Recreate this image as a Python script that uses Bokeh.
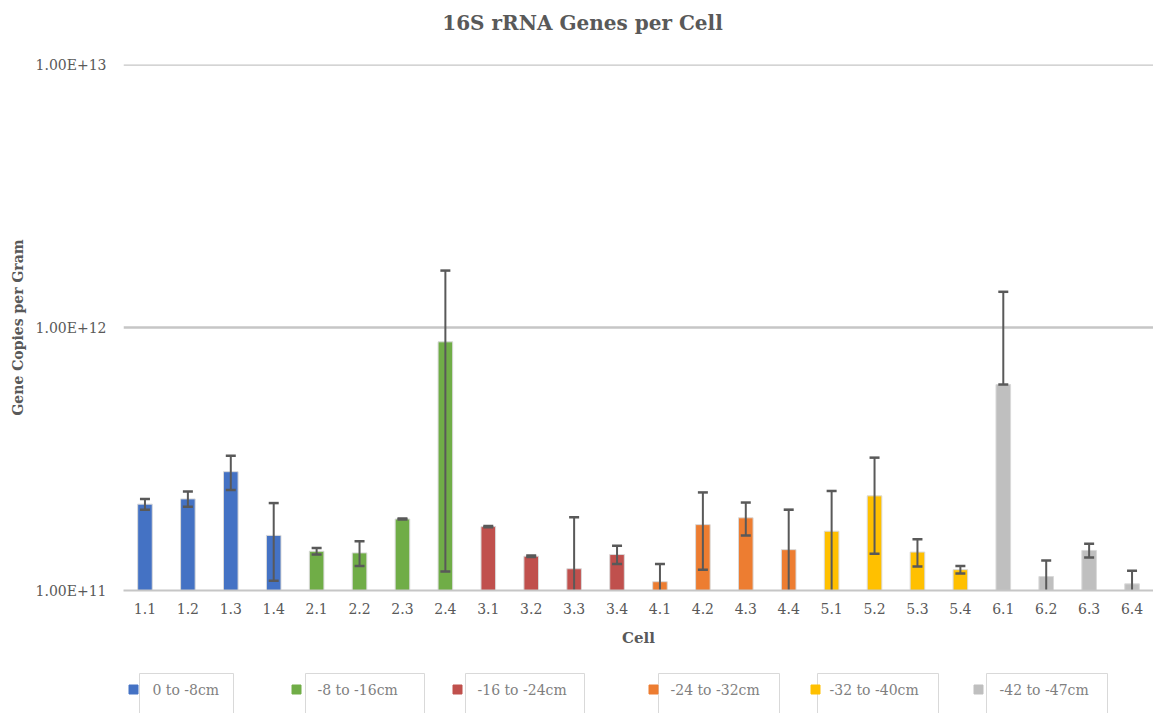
from bokeh.plotting import figure
from bokeh.layouts import column
from bokeh.models import (Range1d, FactorRange, FixedTicker, CustomJSTickFormatter,
                          ColumnDataSource, Span)
from bokeh.core.properties import value
from bokeh.embed import file_html
from bokeh.resources import INLINE

# ---- data -------------------------------------------------------------
cells = ["1.1", "1.2", "1.3", "1.4", "2.1", "2.2", "2.3", "2.4",
         "3.1", "3.2", "3.3", "3.4", "4.1", "4.2", "4.3", "4.4",
         "5.1", "5.2", "5.3", "5.4", "6.1", "6.2", "6.3", "6.4"]

# mean gene copies per gram
copies = [2.13e11, 2.23e11, 2.83e11, 1.62e11, 1.41e11, 1.39e11, 1.87e11, 8.82e11,
          1.75e11, 1.35e11, 1.21e11, 1.37e11, 1.08e11, 1.78e11, 1.89e11, 1.43e11,
          1.68e11, 2.29e11, 1.40e11, 1.20e11, 6.07e11, 1.13e11, 1.42e11, 1.06e11]

# symmetric error (one standard deviation)
errors = [1.0e10, 1.5e10, 4.2e10, 5.3e10, 0.4e10, 1.5e10, 0.1e10, 7.64e11,
          0.1e10, 0.1e10, 6.9e10, 1.1e10, 1.8e10, 5.8e10, 2.7e10, 6.0e10,
          7.1e10, 9.1e10, 1.65e10, 0.4e10, 7.6e11, 1.7e10, 0.85e10, 1.3e10]

depths = ["0 to -8cm", "-8 to -16cm", "-16 to -24cm",
          "-24 to -32cm", "-32 to -40cm", "-42 to -47cm"]
depth_colors = ["#4472C4", "#70AD47", "#C0504D", "#ED7D31", "#FFC000", "#BFBFBF"]

y_ticks = [1e11, 1e12, 1e13]

title_text = "16S rRNA Genes per Cell"

# ---- styling ----------------------------------------------------------
FONT = "DejaVu Serif"
TXT = "#595959"
GRID = "#c6c6c6"
LEFT, WIDTH = 123, 1153
TITLE_H = 44


def strip(height):
    """A figure whose frame is addressed in page pixels (x) and strip pixels (y, downwards)."""
    f = figure(width=WIDTH, height=height, x_range=Range1d(LEFT, WIDTH),
               y_range=Range1d(height, 0), x_axis_location=None, y_axis_location=None,
               output_backend="svg", toolbar_location=None,
               min_border_left=LEFT, min_border_right=0,
               min_border_top=0, min_border_bottom=0)
    f.grid.grid_line_color = None
    f.outline_line_color = None
    return f


# ---- title strip --------------------------------------------------------
head = strip(TITLE_H)
head.text(x=[582], y=[22], text=[title_text], text_font=value(FONT),
          text_font_size="20px", text_font_style="bold", text_color=TXT,
          text_align="center", text_baseline="middle")

# ---- chart --------------------------------------------------------------
# each cell belongs to the depth band given by its first digit
bar_colors = [depth_colors[int(c.split(".")[0]) - 1] for c in cells]
upper = [m + e for m, e in zip(copies, errors)]
# on a log axis a non-positive lower limit cannot be drawn: keep the upper half only
lower = [m - e if m - e > 0 else m for m, e in zip(copies, errors)]

src = ColumnDataSource(dict(cell=cells, copies=copies, color=bar_colors,
                            upper=upper, lower=lower, base=[y_ticks[0]] * len(cells)))

p = figure(width=WIDTH, height=665 - TITLE_H, x_range=FactorRange(*cells, range_padding=0),
           y_range=Range1d(y_ticks[0], y_ticks[-1]), y_axis_type="log",
           output_backend="svg", toolbar_location=None,
           min_border_left=LEFT, min_border_right=0, min_border_top=64 - TITLE_H,
           min_border_bottom=75)
p.outline_line_color = None
p.background_fill_color = "white"
p.border_fill_color = "white"

p.vbar(x="cell", top="copies", bottom="base", width=0.34, source=src,
       fill_color="color", line_color="#d9d9d9", line_width=1)

# error bars
p.segment(x0="cell", y0="lower", x1="cell", y1="upper", source=src,
          line_color=TXT, line_width=2)
p.scatter(x="cell", y="upper", source=src, marker="dash", size=10,
          line_color=TXT, line_width=2.5)
p.scatter(x="cell", y="lower", source=src, marker="dash", size=10,
          line_color=TXT, line_width=2.5)

# axes
p.yaxis.ticker = FixedTicker(ticks=y_ticks, minor_ticks=[])
p.yaxis.formatter = CustomJSTickFormatter(code="return tick.toExponential(2).toUpperCase();")
p.yaxis.axis_line_color = None
p.yaxis.major_tick_line_color = None
p.yaxis.minor_tick_line_color = None
p.yaxis.major_label_standoff = 11
p.yaxis.major_label_text_font = FONT
p.yaxis.major_label_text_font_size = "14px"
p.yaxis.major_label_text_color = TXT
p.yaxis.axis_label = "Gene Copies per Gram"
p.yaxis.axis_label_text_font = FONT
p.yaxis.axis_label_text_font_size = "14px"
p.yaxis.axis_label_text_font_style = "bold"
p.yaxis.axis_label_text_color = TXT
p.yaxis.axis_label_standoff = 7

p.xaxis.axis_line_color = GRID
p.xaxis.axis_line_width = 2
p.xaxis.major_tick_line_color = None
p.xaxis.minor_tick_line_color = None
p.xaxis.major_label_standoff = 6
p.xaxis.major_label_text_font = FONT
p.xaxis.major_label_text_font_size = "14px"
p.xaxis.major_label_text_color = TXT
p.xaxis.axis_label = "Cell"
p.xaxis.axis_label_text_font = FONT
p.xaxis.axis_label_text_font_size = "15px"
p.xaxis.axis_label_text_font_style = "bold"
p.xaxis.axis_label_text_color = TXT
p.xaxis.axis_label_standoff = 12

p.xgrid.grid_line_color = None
p.ygrid.grid_line_color = GRID
p.ygrid.grid_line_width = 2.5
# the top gridline sits on the frame edge
p.add_layout(Span(location=y_ticks[-1], dimension="width",
                  line_color=GRID, line_width=2.5))

# ---- legend strip ---------------------------------------------------------
key_x = [133, 296, 457, 653, 815, 978]
box_left = [139, 305, 465, 658, 817, 986]
box_right = [233, 424, 584, 779, 938, 1107]
label_x = [152, 317, 477, 670, 829, 999]

leg = strip(48)
leg.quad(left=box_left, right=box_right, top=[8] * 6, bottom=[60] * 6,
         fill_color=None, line_color="#d9d9d9", line_width=1)
leg.scatter(x=key_x, y=[24] * 6, marker="square", size=9,
            fill_color=depth_colors, line_color=depth_colors)
leg.text(x=label_x, y=[24] * 6, text=depths, text_font=value(FONT),
         text_font_size="14px", text_color="#7f7f7f", text_baseline="middle",
         text_align="left")

layout = column(head, p, leg, spacing=0)
open("out.html", "w").write(file_html(layout, INLINE))
